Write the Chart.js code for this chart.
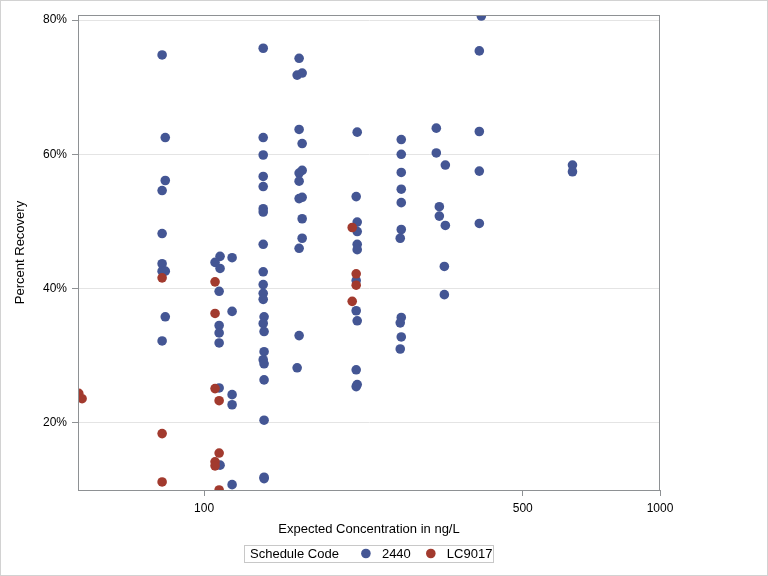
<!DOCTYPE html>
<html>
<head>
<meta charset="utf-8">
<script src="https://cdn.jsdelivr.net/npm/chart.js@4.4.0/dist/chart.umd.min.js"></script>
<style>
    html, body { margin: 0; padding: 0; background: #fff; }
    #wrap { width: 768px; height: 576px; position: relative; }
</style>
</head>
<body>
<div id="wrap"><canvas id="recoveryChart" width="768" height="576"></canvas></div>
<script>
// Series names (legend)
const legendTitle = 'Schedule Code';
const seriesNames = ['2440', 'LC9017'];

// Schedule 2440: expected concentration (ng/L) and percent recovery
const conc2440 = [
    80.9, 82.2, 82.2, 80.9, 80.9, 80.9, 80.9, 82.2, 82.2, 80.9,
    108.4, 105.7, 115.2, 108.4, 107.9, 115.2, 107.9, 107.9, 107.9, 107.9, 115.2, 115.2, 108.4, 115.2,
    134.8, 134.8, 134.8, 134.8, 134.8, 134.8, 134.8, 134.8, 134.8, 134.8, 134.8, 134.8, 135.4, 134.8,
    135.4, 135.4, 134.8, 135.4, 135.4, 135.4, 135.4, 135.4,
    161.6, 160.0, 164.1, 161.6, 164.1, 164.1, 161.6, 161.6, 161.6, 164.1, 164.1, 164.1, 161.6, 161.6, 160.0,
    216.7, 215.6, 216.7, 216.7, 216.7, 216.7, 215.6, 215.6, 216.7, 215.6, 216.7, 215.6,
    270.7, 270.7, 270.7, 270.7, 270.7, 270.7, 269.3, 270.7, 269.3, 270.7, 269.3,
    323.1, 323.1, 338.2, 328.1, 328.1, 338.2, 336.5, 336.5,
    405.6, 401.5, 401.5, 401.5, 401.5,
    642.7, 642.7
];
const recovery2440 = [
    74.8, 62.5, 56.1, 54.6, 48.2, 43.7, 42.6, 42.6, 35.8, 32.2,
    44.8, 43.9, 44.6, 43.0, 39.6, 36.6, 34.5, 33.4, 31.9, 25.2, 24.2, 22.7, 13.7, 10.8,
    75.8, 62.5, 59.9, 56.7, 55.2, 51.9, 51.4, 46.6, 42.5, 40.6, 39.3, 38.4, 35.8, 34.8,
    33.6, 30.6, 29.4, 28.8, 26.4, 20.4, 11.7, 11.9,
    74.3, 71.8, 72.1, 63.7, 61.6, 57.6, 57.2, 56.0, 53.4, 53.6, 50.4, 47.5, 46.0, 33.0, 28.2,
    63.3, 53.7, 49.9, 48.5, 46.6, 45.8, 41.2, 36.7, 35.2, 27.9, 25.7, 25.4,
    62.2, 60.0, 57.3, 54.8, 52.8, 48.8, 47.5, 35.7, 34.9, 32.8, 31.0,
    63.9, 60.2, 58.4, 52.2, 50.8, 49.4, 43.3, 39.1,
    80.6, 75.4, 63.4, 57.5, 49.7,
    58.4, 57.4
];

// Schedule LC9017
const concLC9017 = [
    53.1, 54.0,
    80.9, 80.9, 80.9,
    105.7, 105.7, 105.7, 107.9, 107.9, 105.7, 105.7, 107.9,
    211.3, 215.6, 215.6, 211.3
];
const recoveryLC9017 = [
    24.4, 23.6,
    41.6, 18.4, 11.2,
    41.0, 36.3, 25.1, 23.3, 15.5, 14.2, 13.6, 10.0,
    49.1, 42.2, 40.5, 38.1
];

// Axis ticks
const xTicks = [100, 500, 1000];
const yTicks = [20, 40, 60, 80];

const colors = ['#445694', '#a23a2e'];
const axisColor = '#8e9194';
const gridColor = '#e4e4e4';

function toPoints(xs, ys) {
    return xs.map((x, i) => ({ x: x, y: ys[i] }));
}

Chart.defaults.font.family = "'Liberation Sans', Arial, sans-serif";
Chart.defaults.color = '#000';

// frame around plot area, outer border and the inline legend
const framePlugin = {
    id: 'frame',
    afterDraw(chart) {
        const ctx = chart.ctx;
        const a = chart.chartArea;
        ctx.save();
        ctx.strokeStyle = '#d2d2d2';
        ctx.lineWidth = 1;
        ctx.strokeRect(0.5, 0.5, chart.width - 1, chart.height - 1);
        ctx.strokeStyle = axisColor;
        ctx.strokeRect(Math.round(a.left) + 0.5, Math.round(a.top) + 0.5,
            Math.round(a.right - a.left) - 1, Math.round(a.bottom - a.top));

        // legend
        ctx.font = "13px 'Liberation Sans', Arial, sans-serif";
        ctx.textBaseline = 'middle';
        ctx.fillStyle = '#000';
        const titleW = ctx.measureText(legendTitle).width;
        const itemW = seriesNames.map(n => ctx.measureText(n).width);
        const padL = 6, padR = 8, gapTitle = 22, markGap = 16, itemGap = 20;
        let total = padL + titleW + padR;
        itemW.forEach(w => { total += gapTitle - 4 + markGap + w; });
        total += 4;
        const boxX = Math.round((a.left + a.right) / 2 - total / 2);
        const boxY = 545, boxH = 17, cy = boxY + boxH / 2;
        ctx.strokeStyle = '#c8c8c8';
        ctx.strokeRect(boxX + 0.5, boxY + 0.5, Math.round(total), boxH);
        let x = boxX + padL;
        ctx.textAlign = 'left';
        ctx.fillText(legendTitle, x, cy + 0.5);
        x += titleW + 27;
        seriesNames.forEach((n, i) => {
            ctx.beginPath();
            ctx.fillStyle = colors[i];
            ctx.arc(x, cy, 4.8, 0, Math.PI * 2);
            ctx.fill();
            ctx.fillStyle = '#000';
            ctx.fillText(n, x + markGap, cy + 0.5);
            x += markGap + itemW[i] + itemGap;
        });
        ctx.restore();
    }
};

const ctx = document.getElementById('recoveryChart').getContext('2d');
new Chart(ctx, {
    type: 'scatter',
    data: {
        datasets: [{
            label: seriesNames[0],
            data: toPoints(conc2440, recovery2440),
            backgroundColor: colors[0],
            borderColor: colors[0],
            pointRadius: 4.8,
            pointBorderWidth: 0,
            clip: 0,
            order: 1
        }, {
            label: seriesNames[1],
            data: toPoints(concLC9017, recoveryLC9017),
            backgroundColor: colors[1],
            borderColor: colors[1],
            pointRadius: 4.8,
            pointBorderWidth: 0,
            clip: 0,
            order: 0
        }]
    },
    options: {
        responsive: false,
        animation: false,
        layout: {
            padding: { left: 0, top: 15, right: 108, bottom: 0 }
        },
        scales: {
            x: {
                type: 'logarithmic',
                min: 52.9,
                max: 1000,
                afterBuildTicks: s => { s.ticks = xTicks.map(v => ({ value: v })); },
                afterFit: s => { s.height = 86; },
                grid: {
                    drawOnChartArea: false,
                    tickLength: 6,
                    tickColor: axisColor
                },
                border: { color: axisColor },
                ticks: {
                    font: { size: 12 },
                    color: '#000',
                    padding: 5,
                    maxRotation: 0,
                    callback: v => String(v)
                },
                title: {
                    display: true,
                    text: 'Expected Concentration in ng/L',
                    font: { size: 13 },
                    color: '#000',
                    padding: { top: 4, bottom: 39 }
                }
            },
            y: {
                min: 10,
                max: 80.75,
                afterBuildTicks: s => { s.ticks = yTicks.map(v => ({ value: v })); },
                afterFit: s => { s.width = 78; },
                grid: {
                    color: gridColor,
                    tickLength: 6,
                    tickColor: axisColor
                },
                border: { color: axisColor },
                ticks: {
                    font: { size: 12 },
                    color: '#000',
                    padding: 5,
                    callback: v => v + '%'
                },
                title: {
                    display: true,
                    text: 'Percent Recovery',
                    font: { size: 13 },
                    color: '#000',
                    padding: { top: 12.7, bottom: 4 }
                }
            }
        },
        plugins: {
            legend: { display: false },
            tooltip: { enabled: false }
        }
    },
    plugins: [framePlugin]
});
</script>
</body>
</html>
